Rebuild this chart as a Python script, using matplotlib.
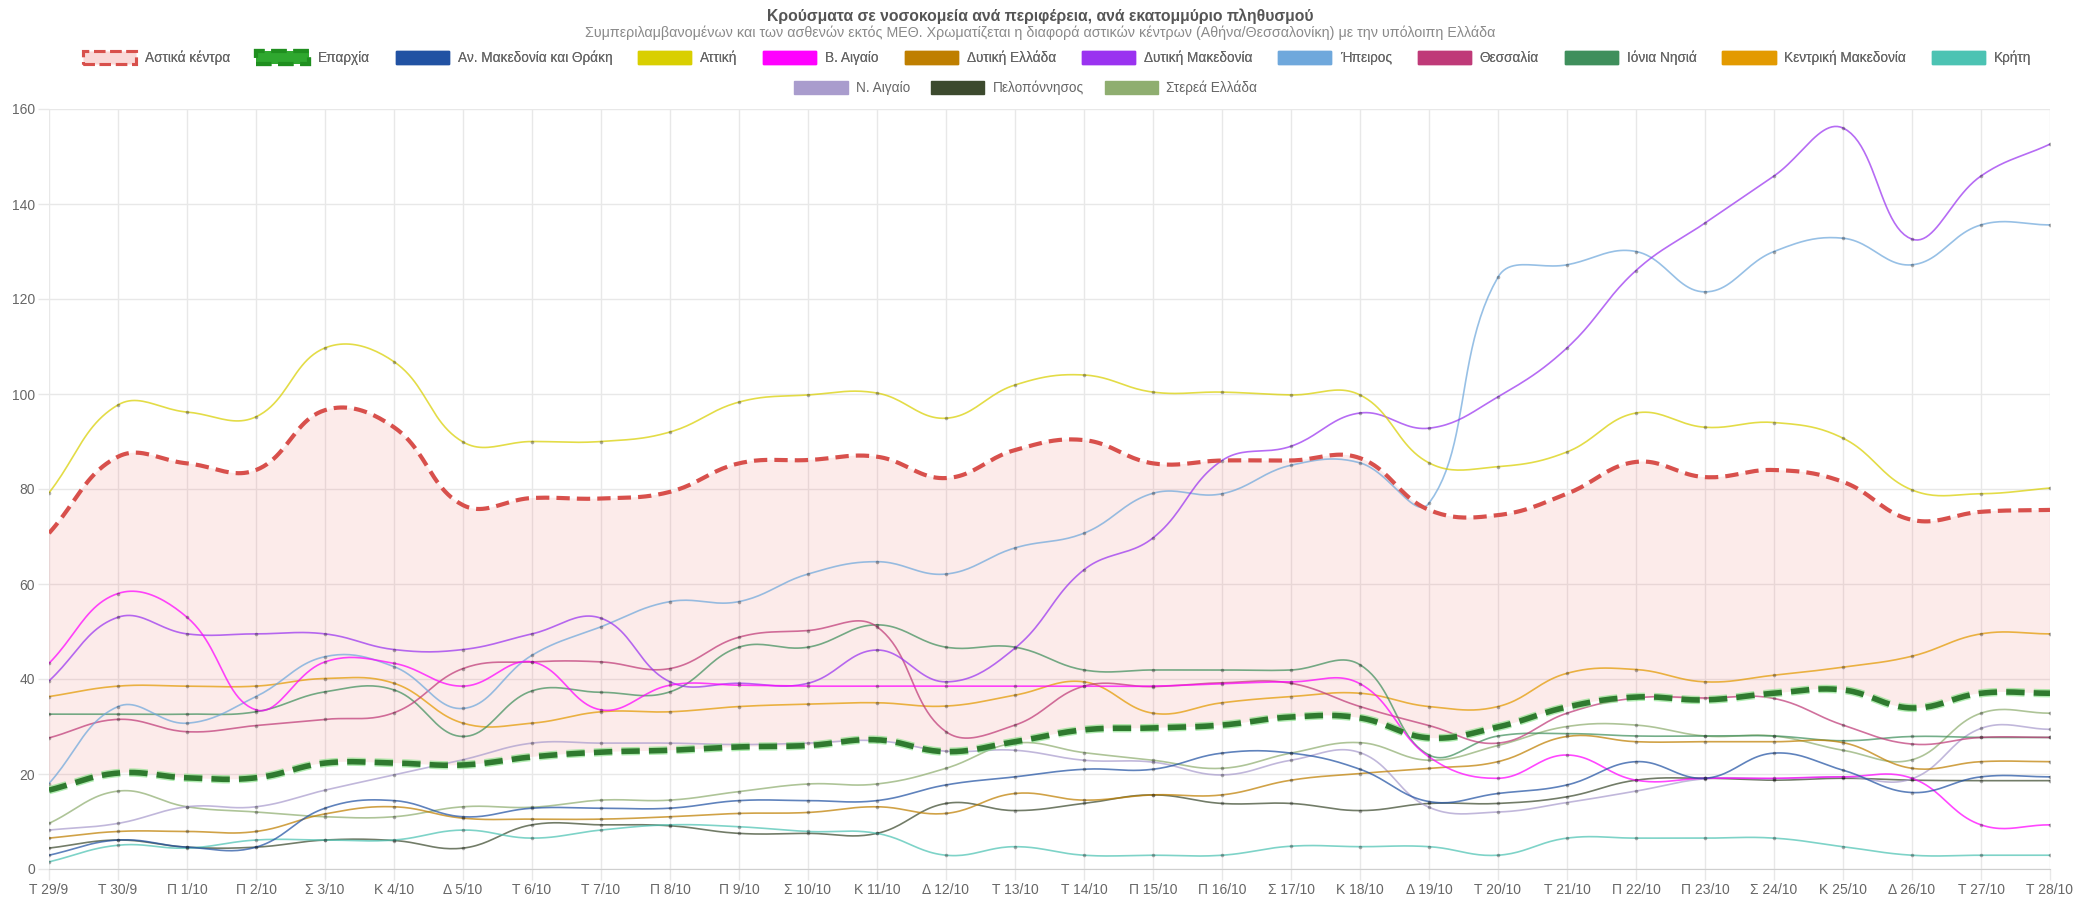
import numpy as np
import matplotlib
matplotlib.use("Agg")
import matplotlib.pyplot as plt
from matplotlib.patches import Patch

plt.rcParams['font.family'] = ['Liberation Sans', 'DejaVu Sans']

# x axis: one label per day (weekday initial + date)
days = ['Τ 29/9', 'Τ 30/9', 'Π 1/10', 'Π 2/10', 'Σ 3/10', 'Κ 4/10', 'Δ 5/10', 'Τ 6/10',
        'Τ 7/10', 'Π 8/10', 'Π 9/10', 'Σ 10/10', 'Κ 11/10', 'Δ 12/10', 'Τ 13/10', 'Τ 14/10',
        'Π 15/10', 'Π 16/10', 'Σ 17/10', 'Κ 18/10', 'Δ 19/10', 'Τ 20/10', 'Τ 21/10', 'Π 22/10',
        'Π 23/10', 'Σ 24/10', 'Κ 25/10', 'Δ 26/10', 'Τ 27/10', 'Τ 28/10']

# hospitalised cases per million
urban = [70.7, 86.8, 85.4, 84.0, 96.6, 93.0, 76.6, 78.1, 78.0, 79.4, 85.4, 86.1, 86.8, 82.3, 88.2,
         90.3, 85.4, 86.0, 86.0, 86.5, 75.6, 74.5, 79.0, 85.7, 82.5, 84.0, 81.5, 73.5, 75.2, 75.6]
province = [16.6, 20.2, 19.2, 19.2, 22.3, 22.3, 21.9, 23.6, 24.6, 25.0, 25.7, 26.0, 27.2, 24.7, 26.8,
            29.3, 29.7, 30.3, 32.0, 31.8, 27.6, 29.9, 34.1, 36.2, 35.6, 37.0, 37.7, 33.9, 37.0, 37.0]

amth = [2.9, 6.1, 4.6, 4.6, 12.8, 14.4, 11.0, 12.8, 12.8, 12.8, 14.4, 14.4, 14.4, 17.7, 19.4,
        21.0, 21.0, 24.4, 24.4, 21.0, 14.2, 15.9, 17.7, 22.6, 19.1, 24.4, 20.8, 16.1, 19.4, 19.4]
attiki = [79.2, 97.7, 96.2, 95.2, 109.7, 106.8, 89.9, 90.0, 90.0, 92.0, 98.3, 99.8, 100.2, 94.9, 101.9,
          104.0, 100.4, 100.4, 99.8, 99.8, 85.5, 84.7, 87.8, 96.0, 93.0, 94.0, 90.7, 79.8, 79.0, 80.2]
v_aigaio = [43.3, 58.0, 53.0, 33.5, 43.6, 43.3, 38.5, 43.6, 33.5, 38.7, 38.7, 38.5, 38.5, 38.5, 38.5,
            38.5, 38.5, 39.0, 39.4, 39.0, 23.6, 19.1, 24.0, 18.7, 19.1, 19.1, 19.4, 19.1, 9.3, 9.3]
dyt_ellada = [6.5, 7.9, 7.9, 7.9, 11.6, 13.1, 10.7, 10.5, 10.5, 11.0, 11.7, 11.9, 13.1, 11.7, 15.9,
              14.5, 15.6, 15.6, 18.7, 20.1, 21.2, 22.6, 27.9, 26.8, 26.8, 26.8, 26.6, 21.2, 22.6, 22.6]
dyt_makedonia = [39.6, 53.0, 49.5, 49.5, 49.5, 46.2, 46.2, 49.5, 52.8, 39.4, 39.1, 39.1, 46.1, 39.4, 46.5,
                 63.0, 69.7, 86.0, 89.0, 96.0, 92.8, 99.4, 109.7, 126.0, 136.0, 145.9, 156.0, 132.6, 145.9, 152.6]
ipeiros = [18.0, 34.2, 30.7, 36.3, 44.7, 42.6, 33.8, 45.0, 51.0, 56.3, 56.3, 62.1, 64.7, 62.1, 67.6,
           70.7, 79.1, 79.0, 85.0, 85.5, 77.0, 124.6, 127.2, 130.0, 121.5, 130.0, 132.8, 127.2, 135.6, 135.6]
thessalia = [27.6, 31.5, 28.9, 30.2, 31.5, 32.9, 42.2, 43.6, 43.6, 42.2, 48.8, 50.2, 51.0, 28.9, 30.3,
             38.5, 38.4, 39.2, 39.1, 34.2, 30.2, 26.5, 32.8, 36.0, 36.0, 35.9, 30.3, 26.3, 27.7, 27.7]
ionia = [32.6, 32.6, 32.6, 33.1, 37.3, 37.7, 27.9, 37.5, 37.2, 37.3, 46.7, 46.7, 51.4, 46.7, 46.7,
         41.9, 41.9, 41.9, 41.9, 43.0, 24.0, 28.0, 28.5, 28.0, 28.0, 28.0, 27.0, 27.9, 27.7, 27.7]
kentr_makedonia = [36.3, 38.5, 38.5, 38.5, 40.1, 39.1, 30.7, 30.7, 33.1, 33.1, 34.2, 34.7, 35.0, 34.3, 36.6,
                   39.4, 32.8, 35.0, 36.3, 37.0, 34.2, 34.2, 41.2, 42.0, 39.4, 40.8, 42.5, 44.8, 49.5, 49.5]
kriti = [1.5, 5.0, 4.4, 6.1, 6.1, 6.1, 8.2, 6.5, 8.2, 9.3, 8.9, 7.9, 7.5, 2.9, 4.7,
         2.9, 2.9, 2.9, 4.8, 4.7, 4.7, 2.9, 6.5, 6.5, 6.5, 6.5, 4.7, 2.9, 2.9, 2.9]
n_aigaio = [8.2, 9.6, 13.1, 13.1, 16.6, 19.8, 23.0, 26.5, 26.5, 26.5, 26.2, 26.5, 27.0, 24.8, 25.0,
            22.9, 22.5, 19.8, 22.9, 24.5, 13.0, 12.0, 14.0, 16.4, 19.0, 19.0, 19.4, 19.0, 29.6, 29.4]
peloponnisos = [4.4, 6.1, 4.6, 4.6, 6.1, 6.0, 4.4, 9.3, 9.3, 9.1, 7.5, 7.5, 7.5, 13.8, 12.3,
                13.8, 15.6, 13.8, 13.8, 12.3, 13.8, 13.8, 15.2, 18.7, 19.1, 18.7, 19.1, 18.7, 18.6, 18.6]
sterea = [9.6, 16.4, 13.1, 12.0, 11.0, 11.0, 13.1, 13.0, 14.5, 14.5, 16.3, 17.9, 17.9, 21.2, 26.5,
          24.5, 22.9, 21.2, 24.4, 26.6, 22.9, 26.0, 30.0, 30.3, 28.0, 28.0, 25.0, 23.0, 32.8, 32.8]

regions = [
    ('Αν. Μακεδονία και Θράκη', amth, '#2152a3'),
    ('Αττική', attiki, '#d9cf00'),
    ('Β. Αιγαίο', v_aigaio, '#ff00ff'),
    ('Δυτική Ελλάδα', dyt_ellada, '#bf7f00'),
    ('Δυτική Μακεδονία', dyt_makedonia, '#9a33f0'),
    ('Ήπειρος', ipeiros, '#6fa8dc'),
    ('Θεσσαλία', thessalia, '#bf3a78'),
    ('Ιόνια Νησιά', ionia, '#3f8f5c'),
    ('Κεντρική Μακεδονία', kentr_makedonia, '#e39a00'),
    ('Κρήτη', kriti, '#4cc3b3'),
    ('Ν. Αιγαίο', n_aigaio, '#a99ccd'),
    ('Πελοπόννησος', peloponnisos, '#3c4a2e'),
    ('Στερεά Ελλάδα', sterea, '#8fae70'),
]

YMAX = 160
PX_X, PX_Y = 69.0, 4.75  # pixel size of one day / one unit, used for the spline


def smooth(values, tension=0.4, n=24):
    """Bezier spline through the points, same control-point rule as Chart.js."""
    px = np.arange(len(values)) * PX_X
    py = np.asarray(values, float) * PX_Y
    m = len(px)
    cprev = np.zeros((m, 2))
    cnext = np.zeros((m, 2))
    for i in range(m):
        a = max(i - 1, 0)
        b = min(i + 1, m - 1)
        d01 = np.hypot(px[i] - px[a], py[i] - py[a])
        d12 = np.hypot(px[b] - px[i], py[b] - py[i])
        tot = d01 + d12
        s01 = d01 / tot if tot else 0
        s12 = d12 / tot if tot else 0
        dx, dy = px[b] - px[a], py[b] - py[a]
        cprev[i] = px[i] - tension * s01 * dx, py[i] - tension * s01 * dy
        cnext[i] = px[i] + tension * s12 * dx, py[i] + tension * s12 * dy
    cprev[:, 1] = np.clip(cprev[:, 1], 0, YMAX * PX_Y)
    cnext[:, 1] = np.clip(cnext[:, 1], 0, YMAX * PX_Y)
    t = np.linspace(0, 1, n)[:, None]
    segs = []
    for i in range(m - 1):
        p0 = np.array([px[i], py[i]])
        p3 = np.array([px[i + 1], py[i + 1]])
        p1, p2 = cnext[i], cprev[i + 1]
        seg = ((1 - t) ** 3) * p0 + 3 * ((1 - t) ** 2) * t * p1 + 3 * (1 - t) * t ** 2 * p2 + t ** 3 * p3
        segs.append(seg if i == 0 else seg[1:])
    c = np.vstack(segs)
    return c[:, 0] / PX_X, c[:, 1] / PX_Y


W, H = 2081, 902
fig = plt.figure(figsize=(W / 100, H / 100), dpi=100)
ax = fig.add_axes([49 / W, (H - 869) / H, (2050 - 49) / W, 760 / H])

x = np.arange(len(days))

# shaded gap between urban centres and the rest of the country
ux, uy = smooth(urban)
px_, py_ = smooth(province)
ax.fill(np.concatenate([ux, px_[::-1]]), np.concatenate([uy, py_[::-1]]),
        color=(0.93, 0.36, 0.34, 0.12), lw=0, zorder=1)

for k, (name, vals, col) in enumerate(regions):
    sx, sy = smooth(vals)
    z = 3 + (len(regions) - k) * 0.01
    ax.plot(sx, sy, color=col, lw=1.2, alpha=0.72, zorder=z, solid_capstyle='round')
    ax.plot(x, vals, 'o', ms=2.6, color=(0, 0, 0, 0.3), mec='none', zorder=z)

ax.plot(px_, py_, color='#7ee07e', lw=6.0, ls=(0, (2.2, 1.1)), alpha=0.6, zorder=5)
ax.plot(px_, py_, color='#2f7a2f', lw=4.0, ls=(0, (3.3, 1.65)), zorder=5.1)
ax.plot(ux, uy, color='#d8504c', lw=3.0, ls=(0, (3.2, 1.7)), zorder=5.2)

ax.set_xlim(0, len(days) - 1)
ax.set_ylim(0, YMAX)
ax.set_xticks(x)
ax.set_xticklabels(days)
ax.set_yticks(np.arange(0, YMAX + 1, 20))
ax.grid(True, color='#e8e8e8', lw=1.0, zorder=0)
ax.set_axisbelow(True)
for s in ('top', 'right', 'left'):
    ax.spines[s].set_visible(False)
ax.spines['bottom'].set_color('#cfcfcf')
ax.tick_params(axis='both', colors='#e8e8e8', labelcolor='#666666', labelsize=10, length=8, width=1.0)
ax.tick_params(axis='x', pad=2)
ax.tick_params(axis='y', pad=2)

fig.text(0.5, 1 - 16 / H, 'Κρούσματα σε νοσοκομεία ανά περιφέρεια, ανά εκατομμύριο πληθυσμού',
         ha='center', va='center', fontsize=11.3, fontweight='bold', color='#555555')
fig.text(0.5, 1 - 33 / H,
         'Συμπεριλαμβανομένων και των ασθενών εκτός ΜΕΘ. Χρωματίζεται η διαφορά αστικών κέντρων '
         '(Αθήνα/Θεσσαλονίκη) με την υπόλοιπη Ελλάδα',
         ha='center', va='center', fontsize=10.3, color='#8a8a8a')

handles = [Patch(facecolor=(0.93, 0.36, 0.34, 0.12), edgecolor='#d8504c', ls='--', lw=2.2),
           Patch(facecolor='#2fa82f', edgecolor='#1f8f1f', ls='--', lw=3.0)]
labels = ['Αστικά κέντρα', 'Επαρχία']
for name, vals, col in regions:
    handles.append(Patch(facecolor=col, edgecolor=col, lw=1.0))
    labels.append(name)

common = dict(loc='center', frameon=False, fontsize=9.8, handlelength=3.9, handleheight=1.0,
              handletextpad=0.65, columnspacing=1.9, labelcolor='#666666', borderpad=0)
leg1 = fig.legend(handles[:12], labels[:12], ncol=12, bbox_to_anchor=(0.508, 1 - 58 / H), **common)
fig.add_artist(leg1)
fig.legend(handles[12:], labels[12:], ncol=3, bbox_to_anchor=(0.493, 1 - 88 / H),
           **dict(common, columnspacing=1.5))

fig.savefig('out.png', dpi=100, facecolor='white')
